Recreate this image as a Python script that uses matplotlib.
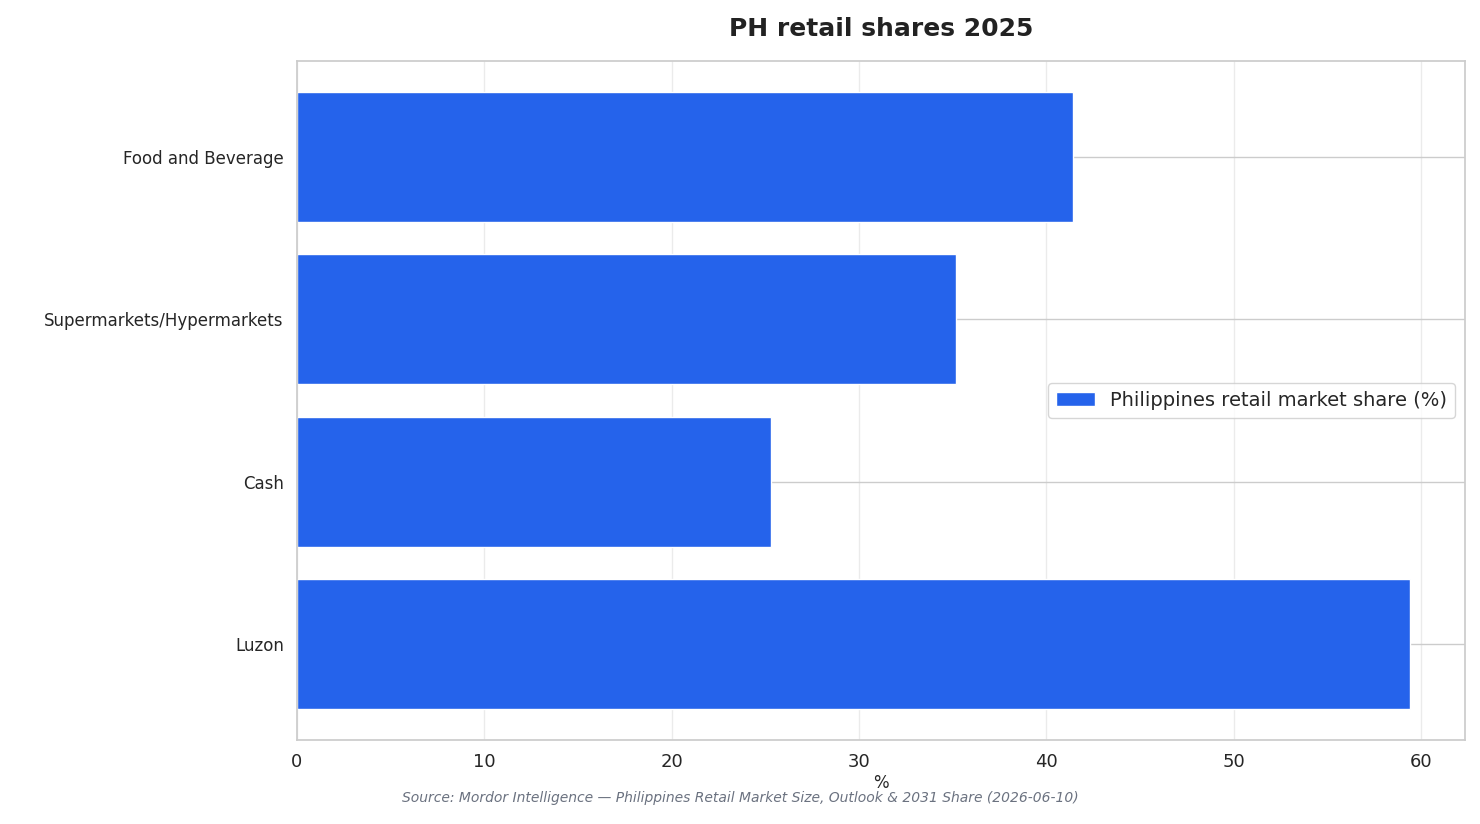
import matplotlib
matplotlib.use("Agg")
import matplotlib.pyplot as plt
import seaborn as sns

sns.set_theme(style="whitegrid")
plt.rcParams['font.family'] = ['DejaVu Sans']

categories = ["Food and Beverage", "Supermarkets/Hypermarkets", "Cash", "Luzon"]
values = [41.4, 35.2, 25.3, 59.4]

fig = plt.figure(figsize=(14.8, 8.24), dpi=100)
ax = fig.add_axes([297/1480, 1-740/824, (1465-297)/1480, (740-61)/824])
ax.barh(categories[::-1], values[::-1], height=0.8, color="#2563eb",
        label="Philippines retail market share (%)", zorder=2)
ax.set_xlim(0, 62.35)
ax.set_xlabel("%", fontsize=12, labelpad=2)
ax.tick_params(axis='x', labelsize=13)
ax.tick_params(axis='y', labelsize=12)
ax.grid(axis='x', color="#ebebeb")
ax.grid(axis='y', color="#cccccc")
for s in ax.spines.values():
    s.set_color("#cccccc")
ax.set_title("PH retail shares 2025", fontsize=18, fontweight="bold", pad=18, color="#222222")
ax.legend(loc="center right", fontsize=14, bbox_to_anchor=(1.0, 0.5))
fig.text(0.5, 0.027, "Source: Mordor Intelligence — Philippines Retail Market Size, Outlook & 2031 Share (2026-06-10)",
         ha="center", fontsize=10, style="italic", color="#6b7280")
fig.savefig("out.png", dpi=100)
